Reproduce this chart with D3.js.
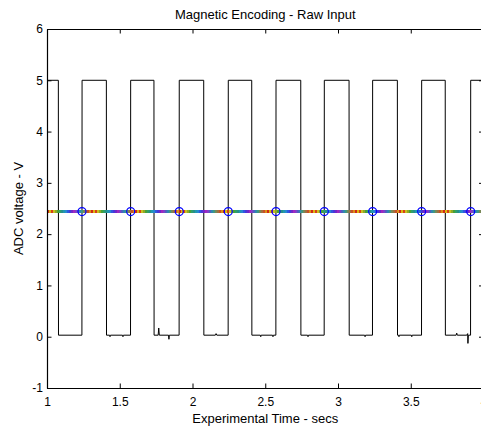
<!DOCTYPE html>
<html>
<head>
<meta charset="utf-8">
<script src="https://cdn.jsdelivr.net/npm/d3@7"></script>
<style>
  html, body { margin: 0; padding: 0; background: #fff; }
  svg { display: block; }
  text { font-family: "Liberation Sans", Arial, sans-serif; fill: #000; }
</style>
</head>
<body>
<svg id="chart" width="481" height="428"></svg>
<script>
// Raw ADC trace of the magnetic encoder (time in seconds, voltage in volts)
const timeSec = [
  1.000, 1.078, 1.079, 1.240, 1.241, 1.408, 1.409, 1.430, 1.433, 1.436,
  1.519, 1.522, 1.525, 1.574, 1.575, 1.735, 1.736, 1.764, 1.768, 1.772,
  1.835, 1.838, 1.841, 1.908, 1.909, 2.077, 2.078, 2.157, 2.162, 2.167,
  2.245, 2.246, 2.407, 2.408, 2.466, 2.469, 2.472, 2.550, 2.553, 2.556,
  2.573, 2.574, 2.744, 2.745, 2.791, 2.794, 2.797, 2.905, 2.906, 3.076,
  3.077, 3.183, 3.186, 3.189, 3.237, 3.238, 3.408, 3.409, 3.416, 3.419,
  3.422, 3.504, 3.507, 3.510, 3.574, 3.575, 3.737, 3.738, 3.812, 3.816,
  3.820, 3.885, 3.891, 3.893, 3.896, 3.911, 3.912, 4.000
];
const adcVolts = [
  5.00, 5.00, 0.03, 0.03, 5.00, 5.00, 0.03, 0.03, 0.00, 0.03,
  0.03, 0.00, 0.03, 0.03, 5.00, 5.00, 0.03, 0.03, 0.17, 0.03,
  0.03, -0.05, 0.03, 0.03, 5.00, 5.00, 0.03, 0.03, 0.06, 0.03,
  0.03, 5.00, 5.00, 0.03, 0.03, 0.00, 0.03, 0.03, 0.00, 0.03,
  0.03, 5.00, 5.00, 0.03, 0.03, 0.00, 0.03, 0.03, 5.00, 5.00,
  0.03, 0.03, 0.00, 0.03, 0.03, 5.00, 5.00, 0.03, 0.03, 0.00,
  0.03, 0.03, 0.00, 0.03, 0.03, 5.00, 5.00, 0.03, 0.03, 0.07,
  0.03, 0.03, 0.06, -0.13, 0.03, 0.03, 5.00, 5.00
];

// Detection threshold and the rising-edge crossings found on it
const thresholdVolts = 2.44;
const thresholdSpan = [1.0, 4.0];
const crossingTimes = [1.2405, 1.575, 1.909, 2.246, 2.574, 2.906, 3.238, 3.575, 3.912];

// Axis ticks and labels
const xTicks = [1, 1.5, 2, 2.5, 3, 3.5, 4];
const yTicks = [-1, 0, 1, 2, 3, 4, 5, 6];
const titleText = "Magnetic Encoding - Raw Input";
const xLabelText = "Experimental Time - secs";
const yLabelText = "ADC voltage - V";

// Stripe colours used along the threshold line
const stripeColors = [
  "#d02818", "#d8b810", "#d84018", "#c8c020", "#90a828", "#48a038",
  "#30a068", "#289088", "#2098b0", "#2888d0", "#3058e0", "#4838d8",
  "#7028c8", "#a028c0", "#8040c8", "#5060c0", "#3088b0", "#409880",
  "#788858", "#a07040", "#c85028", "#d89018"
];

const svg = d3.select("#chart");
const plot = { left: 47, right: 483.5, top: 29, bottom: 388 };

const x = d3.scaleLinear().domain([1, 4]).range([plot.left, plot.right]);
const y = d3.scaleLinear().domain([-1, 6]).range([plot.bottom, plot.top]);

// striped pattern for the threshold line
const defs = svg.append("defs");
const stripeW = 2;
const pat = defs.append("pattern")
  .attr("id", "stripes")
  .attr("patternUnits", "userSpaceOnUse")
  .attr("width", stripeColors.length * stripeW)
  .attr("height", 10)
  .attr("x", plot.left);
pat.selectAll("rect").data(stripeColors).join("rect")
  .attr("x", (d, i) => i * stripeW)
  .attr("y", 0)
  .attr("width", stripeW)
  .attr("height", 10)
  .attr("fill", d => d);

const clip = defs.append("clipPath").attr("id", "plotclip");
clip.append("rect")
  .attr("x", plot.left).attr("y", plot.top)
  .attr("width", plot.right - plot.left).attr("height", plot.bottom - plot.top);

// waveform
const pts = timeSec.map((t, i) => [t, adcVolts[i]]);
const line = d3.line().x(d => x(d[0])).y(d => y(d[1]));
const g = svg.append("g").attr("clip-path", "url(#plotclip)");
g.append("path")
  .datum(pts)
  .attr("d", line)
  .attr("fill", "none")
  .attr("stroke", "#000")
  .attr("stroke-width", 1);

// threshold line
g.append("line")
  .attr("x1", x(thresholdSpan[0])).attr("x2", x(thresholdSpan[1]))
  .attr("y1", y(thresholdVolts)).attr("y2", y(thresholdVolts))
  .attr("stroke", "url(#stripes)")
  .attr("stroke-width", 3);

// crossing markers
g.selectAll("circle.cross").data(crossingTimes).join("circle")
  .attr("class", "cross")
  .attr("cx", d => x(d))
  .attr("cy", y(thresholdVolts))
  .attr("r", 4)
  .attr("fill", "none")
  .attr("stroke", "#0000ff")
  .attr("stroke-width", 1.2);

// axes box with inward ticks
const tickLen = 4.5;
const fmt = d => String(d);
const axBottom = d3.axisBottom(x).tickValues(xTicks).tickSizeInner(-tickLen).tickSizeOuter(0).tickPadding(9).tickFormat(fmt);
const axTop = d3.axisTop(x).tickValues(xTicks).tickSizeInner(-tickLen).tickSizeOuter(0).tickFormat("");
const axLeft = d3.axisLeft(y).tickValues(yTicks).tickSizeInner(-tickLen).tickSizeOuter(0).tickPadding(4).tickFormat(fmt);
const axRight = d3.axisRight(y).tickValues(yTicks).tickSizeInner(-tickLen).tickSizeOuter(0).tickFormat("");

function style(sel) {
  sel.selectAll("path.domain").attr("stroke", "#000").attr("stroke-width", 1.2);
  sel.selectAll(".tick line").attr("stroke", "#000").attr("stroke-width", 1);
  sel.selectAll(".tick text").attr("font-size", 12).attr("font-family", "Liberation Sans, Arial, sans-serif").attr("fill", "#000");
}
svg.append("g").attr("transform", `translate(0,${plot.bottom})`).call(axBottom).call(style);
svg.append("g").attr("transform", `translate(0,${plot.top})`).call(axTop).call(style);
svg.append("g").attr("transform", `translate(${plot.left},0)`).call(axLeft).call(style);
svg.append("g").attr("transform", `translate(${plot.right},0)`).call(axRight).call(style);

// title and axis labels
const cx = (plot.left + plot.right) / 2;
svg.append("text")
  .attr("x", cx).attr("y", 19)
  .attr("text-anchor", "middle")
  .attr("font-size", 13)
  .text(titleText);
svg.append("text")
  .attr("x", cx).attr("y", 423)
  .attr("text-anchor", "middle")
  .attr("font-size", 13)
  .text(xLabelText);
svg.append("text")
  .attr("transform", `translate(23,${(plot.top + plot.bottom) / 2}) rotate(-90)`)
  .attr("text-anchor", "middle")
  .attr("font-size", 13)
  .text(yLabelText);
</script>
</body>
</html>
